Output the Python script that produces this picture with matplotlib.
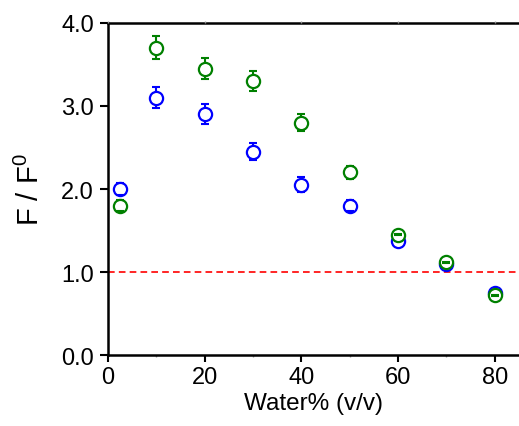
import matplotlib
matplotlib.use("Agg")
import matplotlib.pyplot as plt
from matplotlib.ticker import MultipleLocator

plt.rcParams['font.family'] = ['Liberation Sans', 'DejaVu Sans']

water = [2.5, 10, 20, 30, 40, 50, 60, 70, 80]
blue_vals = [2.0, 3.1, 2.9, 2.45, 2.05, 1.8, 1.38, 1.1, 0.75]
blue_err = [0.07, 0.13, 0.12, 0.1, 0.09, 0.07, 0.005, 0.005, 0.005]
green_vals = [1.8, 3.7, 3.45, 3.3, 2.8, 2.2, 1.45, 1.12, 0.72]
green_err = [0.07, 0.14, 0.13, 0.12, 0.1, 0.08, 0.005, 0.005, 0.005]
xticks = [0, 20, 40, 60, 80]
yticks = [0.0, 1.0, 2.0, 3.0, 4.0]

fig = plt.figure(figsize=(5.19, 4.27), dpi=100)
ax = fig.add_axes([0.208, 0.166, 0.792, 0.778])

ax.axhline(1.0, color='red', linestyle='--', linewidth=1.2, dashes=(4, 2.5), zorder=1)

z = 2
for vals, err, col in [(blue_vals, blue_err, '#0000ff'), (green_vals, green_err, '#008000')]:
    _, caps, bars = ax.errorbar(water, vals, yerr=err, fmt='none', ecolor=col,
                                elinewidth=1.5, capsize=3, capthick=1.5)
    for b in bars:
        b.set_zorder(z)
    ax.plot(water, vals, 'o', mfc='white', mec=col, markersize=9.5, mew=1.6,
            linestyle='none', zorder=z + 1)
    for c in caps:
        c.set_zorder(z + 2)
    z += 3

ax.set_xlim(0, 85)
ax.set_ylim(0, 4.0)
ax.set_xticks(xticks)
ax.xaxis.set_minor_locator(MultipleLocator(10))
ax.set_yticks(yticks)
ax.set_yticklabels([f"{v:.1f}" for v in yticks])

for s in ['left', 'bottom', 'top']:
    ax.spines[s].set_linewidth(1.8)
ax.spines['right'].set_visible(False)
ax.tick_params(axis='y', which='major', direction='out', length=6, width=1.5,
               labelsize=17, pad=4)
ax.tick_params(axis='x', which='major', direction='out', length=5, width=1.5,
               labelsize=17, pad=3, top=False)
ax.tick_params(axis='x', which='minor', direction='out', length=1.5, width=1,
               color='#999999', top=True, bottom=True)

top = ax.twiny()
top.set_xlim(ax.get_xlim())
top.set_xticks(xticks)
top.set_xticklabels([])
top.tick_params(axis='x', which='major', direction='out', length=1.5, width=1,
                color='#999999')
for s in top.spines.values():
    s.set_visible(False)

ax.set_xlabel('Water% (v/v)', fontsize=17.5, labelpad=3)
ax.set_ylabel('F / F$^\\mathregular{0}$', fontsize=21, labelpad=12)

fig.savefig('out.png', dpi=100)
